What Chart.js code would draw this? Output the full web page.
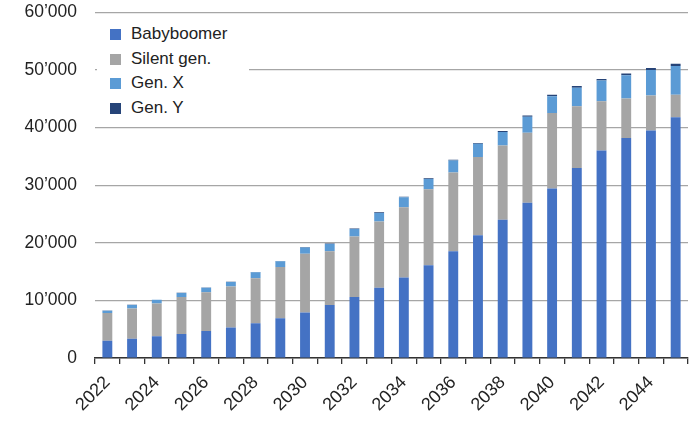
<!DOCTYPE html>
<html>
<head>
<meta charset="utf-8">
<script src="https://cdn.jsdelivr.net/npm/chart.js@4/dist/chart.umd.min.js"></script>
<style>
  html, body { margin: 0; padding: 0; background: #fff; }
  #wrap { position: relative; width: 690px; height: 421px; }
  #legend {
    position: absolute; left: 97px; top: 20px; width: 152px; height: 100px;
    background: #fff; font-family: "Liberation Sans", Arial, sans-serif;
    font-size: 17px; color: #222;
  }
  .item { position: absolute; left: 13px; height: 20px; line-height: 20px; white-space: nowrap; }
  .sw { display: inline-block; width: 11px; height: 11px; margin-right: 10px; vertical-align: -1px; }
</style>
</head>
<body>
<div id="wrap">
  <canvas id="c" width="690" height="421"></canvas>
  <div id="legend"></div>
</div>
<script>
const categories = ["2022","2023","2024","2025","2026","2027","2028","2029","2030","2031","2032","2033","2034","2035","2036","2037","2038","2039","2040","2041","2042","2043","2044","2045"];
const babyboomer = [3000,3360,3770,4170,4700,5300,6030,6900,7900,9200,10600,12200,14000,16100,18550,21300,24000,26960,29450,33000,36050,38200,39500,41800];
const silentGen  = [4800,5240,5680,6430,6700,7100,7820,8900,10200,9350,10500,11500,12200,13200,13650,13600,12900,12140,13100,10700,8550,6850,6100,3900];
const genX       = [400,600,650,700,800,800,1050,1000,1100,1250,1300,1500,1700,1800,2100,2300,2350,2800,2900,3250,3600,4050,4400,5000];
const genY       = [30,30,30,40,40,40,50,50,60,80,80,100,120,130,150,150,180,200,250,300,250,300,350,400];
const seriesNames = ["Babyboomer","Silent gen.","Gen. X","Gen. Y"];
const seriesColors = ["#4472C4","#A5A5A5","#5B9BD5","#264478"];
const yTicks = [0,10000,20000,30000,40000,50000,60000];

const fontFamily = '"Liberation Sans", Arial, sans-serif';
const seriesData = [babyboomer, silentGen, genX, genY];

const chart = new Chart(document.getElementById('c'), {
  type: 'bar',
  data: {
    labels: categories,
    datasets: seriesData.map((d, i) => ({
      label: seriesNames[i],
      data: d,
      backgroundColor: seriesColors[i],
      borderWidth: 0,
      barPercentage: 0.8,
      categoryPercentage: 0.5
    }))
  },
  options: {
    responsive: false,
    animation: false,
    layout: { padding: { top: -8, right: 2, bottom: -2.6, left: 0 } },
    plugins: { legend: { display: false }, tooltip: { enabled: false } },
    scales: {
      x: {
        stacked: true,
        offset: true,
        afterFit: function(axis) { axis.paddingRight = 0; },
        grid: { display: true, drawOnChartArea: false, drawTicks: true, tickLength: 6, color: '#333', offset: true, lineWidth: 1.3 },
        border: { display: true, color: '#333', width: 1.5 },
        ticks: {
          autoSkip: false,
          maxRotation: 45, minRotation: 45,
          color: '#222',
          font: { family: fontFamily, size: 18 },
          padding: 8,
          callback: function(v, i) { return i % 2 === 0 ? categories[i] : ''; }
        }
      },
      y: {
        stacked: true,
        min: 0, max: 60000,
        afterFit: function(axis) { axis.width = 95; },
        afterBuildTicks: function(axis) { axis.ticks = yTicks.map(v => ({ value: v })); },
        grid: { color: '#A6A6A6', lineWidth: 1.2, drawTicks: true, tickLength: 16, tickColor: 'rgba(0,0,0,0)' },
        border: { display: false },
        ticks: {
          color: '#222',
          padding: 2,
          font: { family: fontFamily, size: 17.5 },
          callback: function(v) {
            if (v === 0) return '0';
            return Math.floor(v / 1000) + '\u2019' + String(v % 1000).padStart(3, '0');
          }
        }
      }
    }
  }
});

const leg = document.getElementById('legend');
seriesNames.forEach((n, i) => {
  const d = document.createElement('div');
  d.className = 'item';
  d.style.top = (4 + i * 24.5) + 'px';
  d.innerHTML = '<span class="sw" style="background:' + seriesColors[i] + '"></span>' + n;
  leg.appendChild(d);
});
</script>
</body>
</html>
